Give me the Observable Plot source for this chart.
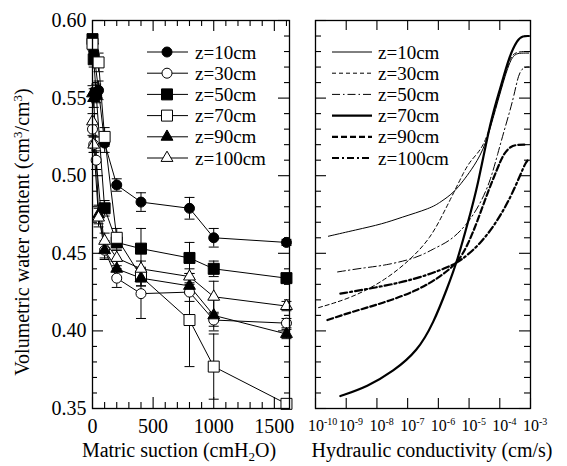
<!DOCTYPE html>
<html><head><meta charset="utf-8">
<script src="https://cdn.jsdelivr.net/npm/d3@7"></script>
<script src="https://cdn.jsdelivr.net/npm/@observablehq/plot@0.6"></script>
<style>
body{margin:0;background:#fff;}
#chart{position:relative;width:567px;height:466px;background:#fff;}
#chart svg{position:absolute;top:0;overflow:visible;}
</style></head><body><div id="chart"></div>
<script>
// ---------- data ----------
const depths = ["z=10cm","z=30cm","z=50cm","z=70cm","z=90cm","z=100cm"];

// left panel: matric suction (cmH2O), water content, error
const s10  = [0, 10, 50, 100, 200, 400, 800, 1000, 1600];
const th10 = [0.587, 0.580, 0.555, 0.521, 0.494, 0.483, 0.479, 0.460, 0.457];
const e10  = [0.003, 0.005, 0.006, 0.006, 0.004, 0.006, 0.007, 0.006, 0.002];

const s30  = [0, 10, 30, 100, 200, 400, 800, 1000, 1600];
const th30 = [0.530, 0.520, 0.510, 0.452, 0.434, 0.424, 0.425, 0.407, 0.405];
const e30  = [0.004, 0.005, 0.006, 0.006, 0.006, 0.016, 0.006, 0.004, 0.003];

const s50  = [0, 10, 30, 100, 200, 400, 800, 1000, 1600];
const th50 = [0.588, 0.575, 0.553, 0.479, 0.457, 0.453, 0.447, 0.440, 0.434];
const e50  = [0.003, 0.005, 0.006, 0.005, 0.005, 0.013, 0.010, 0.005, 0.003];

const s70  = [0, 50, 100, 200, 400, 800, 1000, 1600];
const th70 = [0.585, 0.573, 0.525, 0.460, 0.435, 0.407, 0.377, 0.353];
const e70  = [0.004, 0.006, 0.006, 0.006, 0.006, 0.030, 0.021, 0.002];

const s90  = [0, 10, 50, 100, 200, 400, 800, 1000, 1600];
const th90 = [0.553, 0.550, 0.475, 0.452, 0.440, 0.434, 0.429, 0.410, 0.398];
const e90  = [0.005, 0.006, 0.006, 0.005, 0.005, 0.005, 0.005, 0.010, 0.003];

const s100  = [0, 10, 50, 100, 200, 400, 800, 1000, 1600];
const th100 = [0.535, 0.520, 0.473, 0.458, 0.447, 0.440, 0.435, 0.422, 0.416];
const e100  = [0.005, 0.005, 0.006, 0.005, 0.005, 0.005, 0.005, 0.010, 0.003];

// right panel: log10 hydraulic conductivity (cm/s), water content
const k10  = [-9.58, -8.70, -7.80, -7.23, -6.25, -5.93, -5.50, -5.18, -4.95, -4.53, -4.23, -3.88, -3.65, -3.50, -3.40, -3.06];
const t10  = [0.461, 0.465, 0.469, 0.473, 0.479, 0.483, 0.489, 0.497, 0.503, 0.516, 0.536, 0.561, 0.575, 0.578, 0.579, 0.579];
const k30  = [-9.90, -8.86, -7.78, -6.90, -6.25, -5.83, -5.50, -5.18, -4.95, -4.53, -4.23, -3.88, -3.65, -3.45, -3.06];
const t30  = [0.415, 0.421, 0.432, 0.446, 0.460, 0.476, 0.489, 0.502, 0.510, 0.518, 0.537, 0.562, 0.577, 0.580, 0.580];
const k50  = [-9.28, -8.31, -7.79, -6.68, -6.16, -5.60, -5.05, -4.63, -4.30, -4.07, -3.80, -3.55, -3.39, -3.22, -3.06];
const t50  = [0.438, 0.441, 0.442, 0.447, 0.453, 0.458, 0.469, 0.482, 0.497, 0.514, 0.533, 0.550, 0.566, 0.570, 0.570];
const k70  = [-9.19, -8.31, -7.46, -6.68, -6.16, -5.70, -5.37, -5.05, -4.72, -4.30, -3.97, -3.71, -3.42, -3.25, -3.06];
const t70  = [0.358, 0.364, 0.374, 0.387, 0.405, 0.428, 0.446, 0.469, 0.493, 0.536, 0.557, 0.576, 0.588, 0.590, 0.590];
const k90  = [-9.61, -8.86, -7.79, -6.68, -5.93, -5.37, -5.05, -4.72, -4.40, -4.07, -3.88, -3.65, -3.42, -3.15];
const t90  = [0.407, 0.412, 0.418, 0.426, 0.435, 0.444, 0.455, 0.471, 0.489, 0.505, 0.514, 0.519, 0.520, 0.520];
const k100 = [-9.19, -8.31, -7.23, -6.35, -5.70, -5.28, -4.63, -4.07, -3.65, -3.32, -3.15, -3.03];
const t100 = [0.424, 0.427, 0.431, 0.436, 0.441, 0.445, 0.456, 0.471, 0.486, 0.501, 0.509, 0.511];

// ticks
const yMajor = [0.35, 0.40, 0.45, 0.50, 0.55, 0.60];
const yMinor = [0.36,0.37,0.38,0.39,0.41,0.42,0.43,0.44,0.46,0.47,0.48,0.49,0.51,0.52,0.53,0.54,0.56,0.57,0.58,0.59];
const xMajorL = [0, 500, 1000, 1500];
const xMinorL = [100,200,300,400,600,700,800,900,1100,1200,1300,1400,1600];
const xDecades = [-10, -9, -8, -7, -6, -5, -4, -3];

// ---------- font detection (serif, Times-like) ----------
function pickFont() {
  const c = document.createElement("canvas").getContext("2d");
  const test = "Hydraulic conductivity 0123456789 mmmwwwlliiWW";
  const cands = ["Liberation Serif", "Times New Roman", "Tinos", "Times", "Nimbus Roman", "Nimbus Roman No9 L",
                 "DejaVu Serif", "Noto Serif", "FreeSerif"];
  for (const f of cands) {
    for (const base of ["monospace", "sans-serif"]) {
      c.font = `40px ${base}`; const w0 = c.measureText(test).width;
      c.font = `40px "${f}", ${base}`; const w1 = c.measureText(test).width;
      if (Math.abs(w1 - w0) > 0.5) return f;
    }
  }
  return null;
}
const found = pickFont();
const FONT = found ? `"${found}", serif` : `"Liberation Sans", "DejaVu Sans", sans-serif`;
const FS = found ? 1 : 0.9;            // tick labels
const TITLE = found ? 20 : 19;          // x titles
const YTITLE = found ? 20 : 16.5;       // y title
const LEG = found ? 19 : 18.5;          // legend
document.head.insertAdjacentHTML("beforeend",
  `<style>#chart svg, #chart svg text, #chart svg tspan{font-family:${FONT} !important;}</style>`);

// ---------- build ----------
const rowsL = (depth, s, t, e) => s.map((v, i) => ({depth, s: v, t: t[i], e: e[i]}));
const rowsR = (depth, k, t) => k.map((v, i) => ({depth, k: v, t: t[i]}));
const leftSeries = [
  rowsL(depths[0], s10, th10, e10), rowsL(depths[1], s30, th30, e30),
  rowsL(depths[2], s50, th50, e50), rowsL(depths[3], s70, th70, e70),
  rowsL(depths[4], s90, th90, e90), rowsL(depths[5], s100, th100, e100)
];
const leftAll = leftSeries.flat();
const rightSeries = [
  rowsR(depths[0], k10, t10), rowsR(depths[1], k30, t30), rowsR(depths[2], k50, t50),
  rowsR(depths[3], k70, t70), rowsR(depths[4], k90, t90), rowsR(depths[5], k100, t100)
];
const markers = [
  {symbol: "circle", fill: "black", r: 5},
  {symbol: "circle", fill: "white", r: 5},
  {symbol: "square", fill: "black", r: 6.2},
  {symbol: "square", fill: "white", r: 6.2},
  {symbol: "triangle", fill: "black", r: 4.4},
  {symbol: "triangle", fill: "white", r: 4.4}
];
const lineStyles = [
  {w: 1, dash: null},
  {w: 1, dash: "4,3"},
  {w: 1, dash: "8,3,1.5,3"},
  {w: 2.2, dash: null},
  {w: 2.2, dash: "6,3"},
  {w: 2.2, dash: "7,3,2,3"}
];
const capSymbol = {draw(ctx, size) { const w = Math.sqrt(size / Math.PI); ctx.moveTo(-w, 0); ctx.lineTo(w, 0); }};

const H = 466, MT = 20, MB = 58, FH = H - MT - MB;
const style = {fontFamily: FONT, fontSize: (20 * FS) + "px", color: "black", background: "white", overflow: "visible"};

function frameTicks(FW, xMinor, xMajor, minorLen, majorLen, yMinorLen, yMajorLen) {
  const m = [];
  m.push(Plot.tickY(yMinor, {y: d => d, insetRight: FW - yMinorLen, strokeWidth: 1.1}));
  m.push(Plot.tickY(yMinor, {y: d => d, insetLeft: FW - yMinorLen, strokeWidth: 1.1}));
  m.push(Plot.tickY(yMajor, {y: d => d, insetRight: FW - yMajorLen, strokeWidth: 1.1}));
  m.push(Plot.tickY(yMajor, {y: d => d, insetLeft: FW - yMajorLen, strokeWidth: 1.1}));
  if (xMinor) {
    m.push(Plot.tickX(xMinor, {x: d => d, insetTop: FH - minorLen, strokeWidth: 1.1}));
    m.push(Plot.tickX(xMinor, {x: d => d, insetBottom: FH - minorLen, strokeWidth: 1.1}));
  }
  m.push(Plot.tickX(xMajor, {x: d => d, insetTop: FH - majorLen, strokeWidth: 1.1}));
  m.push(Plot.tickX(xMajor, {x: d => d, insetBottom: FH - majorLen, strokeWidth: 1.1}));
  return m;
}

// Left panel
const WL = 300, MLL = 92, MRL = 11, FWL = WL - MLL - MRL;
const left = Plot.plot({
  width: WL, height: H, marginLeft: MLL, marginRight: MRL, marginTop: MT, marginBottom: MB,
  x: {domain: [0, 1625]}, y: {domain: [0.35, 0.60]},
  style,
  marks: [
    ...frameTicks(FWL, xMinorL, xMajorL, 6, 11, 5, 11),
    Plot.axisY({ticks: yMajor, tickSize: 0, tickPadding: 6, tickFormat: d => d.toFixed(2), label: null, fontSize: 20 * FS}),
    Plot.axisX({ticks: xMajorL, tickSize: 0, tickPadding: 10, tickFormat: d => String(d), label: null, fontSize: 20 * FS}),
    Plot.line(leftAll, {x: "s", y: "t", z: "depth", stroke: "black", strokeWidth: 1}),
    Plot.ruleX(leftAll, {x: "s", y1: d => d.t - d.e, y2: d => d.t + d.e, stroke: "black", strokeWidth: 1}),
    Plot.dot(leftAll, {x: "s", y: d => d.t + d.e, symbol: capSymbol, r: 5, stroke: "black", fill: "none", strokeWidth: 1}),
    Plot.dot(leftAll, {x: "s", y: d => d.t - d.e, symbol: capSymbol, r: 5, stroke: "black", fill: "none", strokeWidth: 1}),
    ...leftSeries.map((rows, i) => Plot.dot(rows, {x: "s", y: "t", symbol: markers[i].symbol, r: markers[i].r,
      fill: markers[i].fill, stroke: "black", strokeWidth: 1})),
    Plot.frame({stroke: "black", strokeWidth: 1.3})
  ]
});

// Right panel
const XR = 300, WR = 267, MLR = 15, MRR = 37, FWR = WR - MLR - MRR;
const right = Plot.plot({
  width: WR, height: H, marginLeft: MLR, marginRight: MRR, marginTop: MT, marginBottom: MB,
  x: {domain: [-10, -3]}, y: {domain: [0.35, 0.60], axis: null},
  style,
  marks: [
    ...frameTicks(FWR, null, xDecades, 10, 10, 6, 11),
    Plot.axisX({ticks: xDecades, tickSize: 0, tickPadding: 11, tickFormat: d => String(d), label: null, fontSize: 16 * FS}),
    ...rightSeries.map((rows, i) => Plot.line(rows, {x: "k", y: "t", stroke: "black", curve: "basis",
      strokeWidth: lineStyles[i].w, strokeDasharray: lineStyles[i].dash})),
    Plot.frame({stroke: "black", strokeWidth: 1.3})
  ]
});

const chart = document.getElementById("chart");
left.style.left = "0px";
right.style.left = XR + "px";
chart.appendChild(left);
chart.appendChild(right);

// superscript decade labels
d3.select(right).selectAll('g[aria-label="x-axis tick label"] text').each(function() {
  const t = d3.select(this);
  const exp = t.text();
  t.text("").attr("text-anchor", "start").attr("dx", -7.5 * FS);
  t.append("tspan").text("10");
  t.append("tspan").attr("font-size", 10 * FS).attr("dy", "-0.6em").text(exp.replace("\u2212", "-"));
});

// axis titles
const gl = d3.select(left).append("g").attr("fill", "black");
const tx = gl.append("text").attr("x", 179).attr("y", 457).attr("font-size", TITLE).attr("text-anchor", "middle");
tx.append("tspan").text("Matric suction (cmH");
tx.append("tspan").attr("font-size", TITLE * 0.65).attr("dy", 4).text("2");
tx.append("tspan").attr("dy", -4).text("O)");
const ty = gl.append("text").attr("transform", "translate(29,232) rotate(-90)").attr("font-size", YTITLE).attr("text-anchor", "middle");
ty.append("tspan").text("Volumetric water content (cm");
ty.append("tspan").attr("font-size", YTITLE * 0.65).attr("dy", -7).text("3");
ty.append("tspan").attr("dy", 7).text("/cm");
ty.append("tspan").attr("font-size", YTITLE * 0.65).attr("dy", -7).text("3");
ty.append("tspan").attr("dy", 7).text(")");

const gr = d3.select(right).append("g").attr("fill", "black");
const hx = gr.append("text").attr("x", 132).attr("y", 457).attr("font-size", TITLE).attr("text-anchor", "middle")
  .text("Hydraulic conductivity (cm/s)");
const hw = hx.node().getComputedTextLength();
if (hw > 258) hx.attr("font-size", TITLE * 258 / hw);

// legends
const rowY = i => 52 + 21.2 * i;
const symPath = (name, r) => {
  const t = name === "circle" ? d3.symbolCircle : name === "square" ? d3.symbolSquare : d3.symbolTriangle;
  return d3.symbol(t, Math.PI * r * r)();
};
depths.forEach((lab, i) => {
  const y = rowY(i);
  gl.append("line").attr("x1", 147).attr("x2", 188).attr("y1", y).attr("y2", y).attr("stroke", "black").attr("stroke-width", 1);
  gl.append("path").attr("d", symPath(markers[i].symbol, markers[i].r)).attr("transform", `translate(167,${y})`)
    .attr("fill", markers[i].fill).attr("stroke", "black").attr("stroke-width", 1);
  gl.append("text").attr("x", 195).attr("y", y + 6.5).attr("font-size", LEG).attr("text-anchor", "start").text(lab);

  gr.append("line").attr("x1", 32).attr("x2", 72).attr("y1", y).attr("y2", y).attr("stroke", "black")
    .attr("stroke-width", lineStyles[i].w).attr("stroke-dasharray", lineStyles[i].dash);
  gr.append("text").attr("x", 78).attr("y", y + 6.5).attr("font-size", LEG).attr("text-anchor", "start").text(lab);
});
</script></body></html>
